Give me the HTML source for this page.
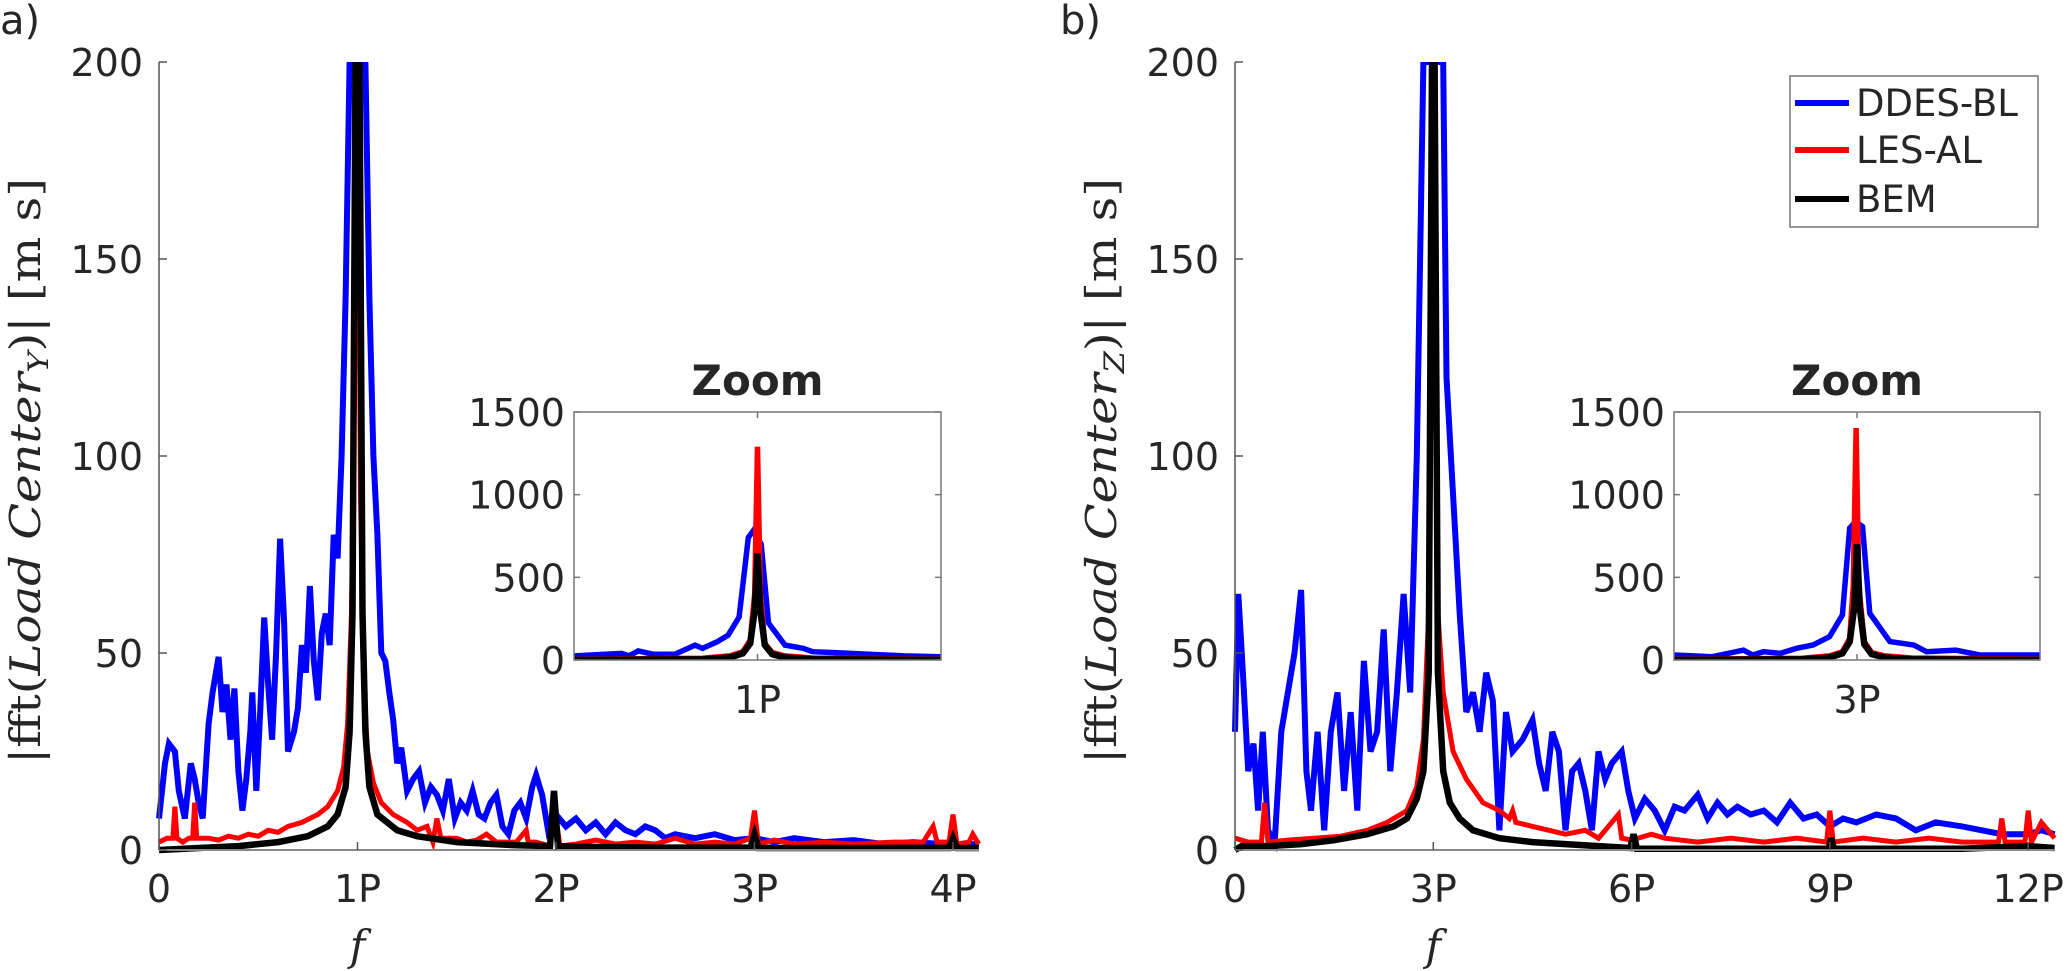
<!DOCTYPE html>
<html><head><meta charset="utf-8"><style>
html,body{margin:0;padding:0;background:#fff;}
svg{display:block;}
text{font-family:"DejaVu Sans","Liberation Sans",sans-serif;fill:#262626;}
.ser{font-family:"DejaVu Serif","Liberation Serif",serif;}
</style></head><body>
<svg id="fig" width="2067" height="971" viewBox="0 0 2067 971" xmlns="http://www.w3.org/2000/svg">
<defs>
<clipPath id="clipA"><rect x="150" y="62" width="840" height="800"/></clipPath>
<clipPath id="clipB"><rect x="1228" y="62" width="832" height="800"/></clipPath>
<clipPath id="clipIA"><rect x="574" y="412" width="367" height="248"/></clipPath>
<clipPath id="clipIB"><rect x="1674" y="412" width="366" height="248"/></clipPath>
</defs>
</svg>
<script>
// ---------- data (x in multiples of P, y in m s) ----------
const xTicksA = [0,1,2,3,4];
const xTickLabelsA = ["0","1P","2P","3P","4P"];
const xTicksB = [0,3,6,9,12];
const xTickLabelsB = ["0","3P","6P","9P","12P"];
const yTicks = [0,50,100,150,200];
const insetYTicks = [0,500,1000,1500];
const seriesNames = ["DDES-BL","LES-AL","BEM"];

const blueA = [[0,8],[0.03,22],[0.05,27],[0.08,25],[0.1,15],[0.13,8],[0.16,22],[0.18,18],[0.2,12],[0.22,8],[0.25,32],[0.27,40],[0.3,49],[0.32,35],[0.34,42],[0.36,28],[0.38,41],[0.4,20],[0.42,10],[0.44,18],[0.46,30],[0.47,40],[0.49,15],[0.51,35],[0.53,59],[0.55,42],[0.57,28],[0.59,50],[0.61,79],[0.63,58],[0.65,25],[0.68,30],[0.7,36],[0.72,52],[0.74,45],[0.76,67],[0.78,48],[0.8,38],[0.82,55],[0.84,60],[0.86,52],[0.88,80],[0.9,74],[0.92,100],[0.94,140],[0.96,200],[1.04,200],[1.06,140],[1.08,100],[1.1,80],[1.12,50],[1.14,48],[1.16,40],[1.18,33],[1.2,22],[1.22,26],[1.25,15],[1.28,18],[1.31,20],[1.34,12],[1.37,16],[1.4,14],[1.43,10],[1.46,18],[1.49,8],[1.52,12],[1.55,10],[1.58,15],[1.61,9],[1.64,8],[1.67,12],[1.7,14],[1.73,6],[1.76,4],[1.79,10],[1.82,12],[1.85,8],[1.88,16],[1.9,19],[1.93,14],[1.96,5],[2.0,9],[2.05,6],[2.1,8],[2.15,5],[2.2,7],[2.25,4],[2.3,7],[2.35,5],[2.4,4],[2.45,6],[2.5,5],[2.55,3],[2.6,4],[2.7,3],[2.8,4],[2.9,2.5],[3.0,3],[3.1,2],[3.2,3],[3.35,2],[3.5,2.5],[3.65,1.5],[3.8,2],[3.95,1.5],[4.05,1.5],[4.13,1.5]];
const redA = [[0,2],[0.04,3],[0.07,3],[0.08,11],[0.09,3],[0.12,2],[0.15,3],[0.17,3],[0.18,12],[0.19,3],[0.25,3],[0.3,2.5],[0.35,3.5],[0.4,3],[0.45,4],[0.5,3.5],[0.55,5],[0.6,4.5],[0.65,6],[0.72,7],[0.8,9],[0.85,11],[0.9,15],[0.93,21],[0.95,32],[0.97,60],[0.985,120],[1.0,200],[1.015,90],[1.03,45],[1.05,25],[1.08,17],[1.12,12],[1.18,9],[1.25,7],[1.3,5],[1.35,6],[1.38,2],[1.4,8],[1.42,3],[1.5,3],[1.55,2],[1.6,2.5],[1.65,4],[1.7,2],[1.8,2],[1.85,5],[1.86,2],[1.9,2],[1.97,1],[1.98,6],[2.0,8],[2.02,1],[2.1,1.5],[2.2,2.5],[2.3,1.5],[2.4,2],[2.5,1.5],[2.6,3],[2.7,1.5],[2.8,2],[2.9,1.5],[2.98,3],[3.0,10],[3.02,1.5],[3.1,2.5],[3.2,1.5],[3.35,2],[3.5,1.5],[3.7,2],[3.85,2],[3.9,6],[3.92,2],[3.98,2],[4.0,9],[4.02,1.5],[4.08,2],[4.1,4],[4.13,1.5]];
const blackA = [[0,0],[0.2,0.5],[0.4,1],[0.6,2],[0.75,3.5],[0.85,6],[0.9,9],[0.94,16],[0.96,30],[0.975,60],[0.99,200],[1.01,200],[1.025,60],[1.04,30],[1.06,16],[1.1,9],[1.2,5],[1.3,3.5],[1.5,2],[1.8,1.2],[1.97,1],[1.99,15],[2.01,1],[2.1,0.8],[2.5,0.6],[2.98,0.6],[3.0,4],[3.02,0.5],[3.5,0.5],[3.98,0.5],[4.0,3],[4.02,0.5],[4.13,0.5]];

const blueB = [[0,30],[0.05,65],[0.12,45],[0.2,20],[0.28,27],[0.35,10],[0.42,30],[0.5,5],[0.6,2],[0.7,30],[0.8,40],[0.9,50],[1.0,66],[1.08,20],[1.15,10],[1.25,30],[1.35,5],[1.45,30],[1.55,40],[1.65,15],[1.75,35],[1.85,10],[1.95,48],[2.05,25],[2.15,30],[2.25,56],[2.35,20],[2.45,40],[2.55,65],[2.65,40],[2.75,100],[2.85,200],[3.15,200],[3.2,120],[3.3,90],[3.4,60],[3.5,35],[3.6,40],[3.7,30],[3.8,45],[3.9,38],[4.0,5],[4.1,35],[4.2,25],[4.35,28],[4.5,33],[4.6,22],[4.7,15],[4.8,30],[4.9,25],[5.0,5],[5.1,20],[5.2,22],[5.3,15],[5.4,5],[5.5,25],[5.6,18],[5.7,22],[5.85,25],[5.95,15],[6.05,8],[6.2,13],[6.35,10],[6.5,5],[6.65,11],[6.8,10],[7.0,14],[7.15,8],[7.3,12],[7.45,9],[7.6,11],[7.8,9],[8.0,10],[8.2,7],[8.4,12],[8.6,8],[8.8,9],[9.0,6],[9.2,8],[9.4,7],[9.7,9],[10.0,8],[10.3,5],[10.6,7],[11.0,6],[11.3,5],[11.6,4],[12.0,4],[12.2,5],[12.4,4]];
const redB = [[0,3],[0.2,2],[0.4,2],[0.45,12],[0.5,2],[0.8,2.5],[1.2,3],[1.6,3.5],[2.0,5],[2.3,7],[2.6,10],[2.75,16],[2.85,28],[2.93,60],[3.0,200],[3.07,60],[3.15,40],[3.3,25],[3.5,18],[3.75,12],[4.0,10],[4.15,8],[4.2,10],[4.25,7],[4.5,6],[5.0,4],[5.3,5],[5.5,3],[5.8,9],[5.85,3],[6.0,2.5],[6.3,4],[6.5,3],[7.0,2],[7.5,3],[8.0,2],[8.5,3],[8.95,2],[9.0,10],[9.05,2],[9.5,3],[10.0,2],[10.5,3],[11.0,2],[11.55,2],[11.6,8],[11.65,2],[11.95,2],[12.0,10],[12.05,2],[12.2,7],[12.4,3]];
const blackB = [[0,0],[0.1,1],[0.5,1],[1.0,1.5],[1.5,2.5],[2.0,4],[2.4,6],[2.6,8],[2.75,13],[2.85,20],[2.93,45],[2.98,200],[3.02,200],[3.07,45],[3.15,20],[3.25,12],[3.4,8],[3.6,5],[4.0,3],[4.5,2],[5.0,1.5],[5.5,1],[5.98,0.5],[6.03,4],[6.08,0.3],[7.0,0.3],[8.0,0.3],[8.98,0.3],[9.02,3],[9.06,0.3],[10.0,0.3],[11.0,0.3],[12.0,1],[12.4,0.5]];

// inset: x in relative offset u (-1..1) around the peak, y in m s
const insetBlueA = [[-1,25],[-0.74,40],[-0.7,25],[-0.65,55],[-0.57,35],[-0.45,35],[-0.34,90],[-0.3,70],[-0.22,110],[-0.16,150],[-0.1,260],[-0.07,550],[-0.05,740],[-0.02,786],[0.02,700],[0.06,224],[0.15,90],[0.25,70],[0.3,50],[0.42,45],[0.61,35],[0.8,25],[1,20]];
const insetRedA = [[-1,5],[-0.3,10],[-0.15,25],[-0.08,50],[-0.04,120],[-0.015,400],[0,1290],[0.015,400],[0.04,100],[0.08,45],[0.15,25],[0.3,12],[1,5]];
const insetBlackA = [[-1,0],[-0.3,5],[-0.15,15],[-0.08,40],[-0.04,100],[-0.015,300],[0,645],[0.015,300],[0.04,90],[0.08,35],[0.15,15],[0.3,5],[1,0]];
const insetBlueB = [[-1,30],[-0.79,20],[-0.62,60],[-0.57,30],[-0.51,50],[-0.42,40],[-0.33,71],[-0.24,91],[-0.15,141],[-0.08,272],[-0.04,798],[-0.007,837],[0.03,807],[0.07,282],[0.18,111],[0.31,91],[0.38,50],[0.54,60],[0.67,30],[1,30]];
const insetRedB = [[-1,5],[-0.3,10],[-0.15,25],[-0.08,50],[-0.04,130],[-0.02,450],[-0.005,1403],[0.01,450],[0.04,110],[0.08,45],[0.15,25],[0.3,12],[1,5]];
const insetBlackB = [[-1,0],[-0.3,5],[-0.15,15],[-0.08,40],[-0.04,110],[-0.015,320],[0,700],[0.015,320],[0.04,95],[0.08,35],[0.15,15],[0.3,5],[1,0]];

const colors = ["#0000ff","#ff0000","#000000"];
const NS = "http://www.w3.org/2000/svg";
const svg = document.getElementById("fig");

function mk(tag, attrs, parent){
  const e = document.createElementNS(NS, tag);
  for (const k in attrs) e.setAttribute(k, attrs[k]);
  (parent||svg).appendChild(e);
  return e;
}
function txt(s, attrs, parent){ const t = mk("text", attrs, parent); t.textContent = s; return t; }

function panel(p){
  const g = mk("g", {});
  
  
  const sx = v => p.x0 + (v - 0) * p.pxPerP;
  const sy = v => p.yBase - v * (p.yBase - p.yTop) / 200;
  const series = [p.blue, p.red, p.black];
  const sNames = ["ddes-bl-line","les-al-line","bem-line"];
  const widths = [6, 5, 6.5];
  const sg = mk("g", {"clip-path": "url(#" + p.clip + ")"}, g);
  series.forEach((s, i) => {
    const pl = mk("polyline", {points: s.map(d => sx(d[0]).toFixed(1) + "," + sy(d[1]).toFixed(1)).join(" "), fill: "none", stroke: colors[i], "stroke-width": widths[i], "stroke-linejoin": "miter"}, sg);
    
    
  });
  const ya = mk("line", {x1: p.x0, y1: p.yTop, x2: p.x0, y2: p.yBase, stroke: "#555", "stroke-width": 1.5}, g);
  
  
  const xa = mk("line", {x1: p.x0, y1: p.yBase, x2: p.xEnd, y2: p.yBase, stroke: "#888", "stroke-width": 2}, g);
  
  
  yTicks.forEach(v => {
    mk("line", {x1: p.x0, y1: sy(v), x2: p.x0 + 8, y2: sy(v), stroke: "#555", "stroke-width": 1.5}, g);
    const t = txt(String(v), {x: p.x0 - 16, y: sy(v) + 14, "font-size": 38, "text-anchor": "end"}, g);
    
    
  });
  p.xt.forEach((v, i) => {
    mk("line", {x1: sx(v), y1: p.yBase, x2: sx(v), y2: p.yBase - 8, stroke: "#555", "stroke-width": 1.5}, g);
    const t = txt(p.xtl[i], {x: sx(v), y: 902, "font-size": 38, "text-anchor": "middle"}, g);
    
    
  });
  const fl = txt("f", {x: sx(p.fAt), y: 960, "font-size": 42, "font-style": "italic", "text-anchor": "middle", class: "ser"}, g);
  
  
  const yl = mk("text", {transform: "translate(" + p.ylX + ",471) rotate(-90)", "text-anchor": "middle", "font-size": 42, class: "ser", textLength: 586, lengthAdjust: "spacingAndGlyphs"}, g);
  
  
  const parts = [["|fft(", "normal", 0], ["Load Center", "italic", 0], [p.sub, "italic", 1], [")| [m s]", "normal", 0]];
  parts.forEach(q => {
    const ts = mk("tspan", {"font-style": q[1]}, yl);
    if (q[2]) { ts.setAttribute("font-size", 28); ts.setAttribute("dy", 8); }
    else if (q[0][0] === ")") { ts.setAttribute("dy", -8); }
    ts.textContent = q[0];
  });
  const pl = txt(p.letter, {x: p.letterX, y: 34, "font-size": 40, fill: "#000"}, g);
  
  
  const ig = mk("g", {}, g);
  
  
  const ix = u => p.ix0 + (u + 1) / 2 * (p.ix1 - p.ix0);
  const iy = v => 660 - v / 1500 * 248;
  mk("rect", {x: p.ix0, y: 412, width: p.ix1 - p.ix0, height: 248, fill: "#fff", stroke: "none"}, ig);
  const icg = mk("g", {"clip-path": "url(#" + p.iclip + ")"}, ig);
  [p.iblue, p.ired, p.iblack].forEach((s, i) => {
    const l = mk("polyline", {points: s.map(d => ix(d[0]).toFixed(1) + "," + iy(d[1]).toFixed(1)).join(" "), fill: "none", stroke: colors[i], "stroke-width": [5.5, 5.5, 6.5][i]}, icg);
    
    
  });
  mk("rect", {x: p.ix0, y: 412, width: p.ix1 - p.ix0, height: 248, fill: "none", stroke: "#777", "stroke-width": 1.5}, ig);
  insetYTicks.forEach(v => {
    mk("line", {x1: p.ix0, y1: iy(v), x2: p.ix0 + 6, y2: iy(v), stroke: "#777", "stroke-width": 1.5}, ig);
    mk("line", {x1: p.ix1, y1: iy(v), x2: p.ix1 - 6, y2: iy(v), stroke: "#777", "stroke-width": 1.5}, ig);
    const t = txt(String(v), {x: p.ix0 - 9, y: iy(v) + 14, "font-size": 38, "text-anchor": "end"}, ig);
    
    
  });
  const cx = ix(0);
  mk("line", {x1: cx, y1: 660, x2: cx, y2: 654, stroke: "#777", "stroke-width": 1.5}, ig);
  mk("line", {x1: cx, y1: 412, x2: cx, y2: 418, stroke: "#777", "stroke-width": 1.5}, ig);
  const il = txt(p.itl, {x: cx, y: 713, "font-size": 38, "text-anchor": "middle"}, ig);
  
  
  const tt = txt("Zoom", {x: (p.ix0 + p.ix1) / 2, y: 395, "font-size": 42, "font-weight": "bold", "text-anchor": "middle", fill: "#000"}, ig);
  
  
}

panel({name: "panel-a", x0: 159, xEnd: 979, pxPerP: 198.5, yTop: 62, yBase: 850, clip: "clipA",
  blue: blueA, red: redA, black: blackA, xt: xTicksA, xtl: xTickLabelsA, fAt: 1, sub: "Y", ylX: 40,
  letter: "a)", letterX: 0, ix0: 574, ix1: 941, iclip: "clipIA", iblue: insetBlueA, ired: insetRedA, iblack: insetBlackA, itl: "1P"});
panel({name: "panel-b", x0: 1235, xEnd: 2055, pxPerP: 66.1, yTop: 62, yBase: 850, clip: "clipB",
  blue: blueB, red: redB, black: blackB, xt: xTicksB, xtl: xTickLabelsB, fAt: 3, sub: "Z", ylX: 1116,
  letter: "b)", letterX: 1060, ix0: 1674, ix1: 2040, iclip: "clipIB", iblue: insetBlueB, ired: insetRedB, iblack: insetBlackB, itl: "3P"});

const lg = mk("g", {});


mk("rect", {x: 1790, y: 76, width: 248, height: 151, fill: "#fff", stroke: "#777", "stroke-width": 1.5}, lg);
const legY = [103, 150, 199];
seriesNames.forEach((n, i) => {
  const l = mk("line", {x1: 1795, y1: legY[i], x2: 1849, y2: legY[i], stroke: colors[i], "stroke-width": 6}, lg);
  
  
  const t = txt(n, {x: 1856, y: legY[i] + 13, "font-size": 37, fill: "#000"}, lg);
  
  
});
</script>
</body></html>
